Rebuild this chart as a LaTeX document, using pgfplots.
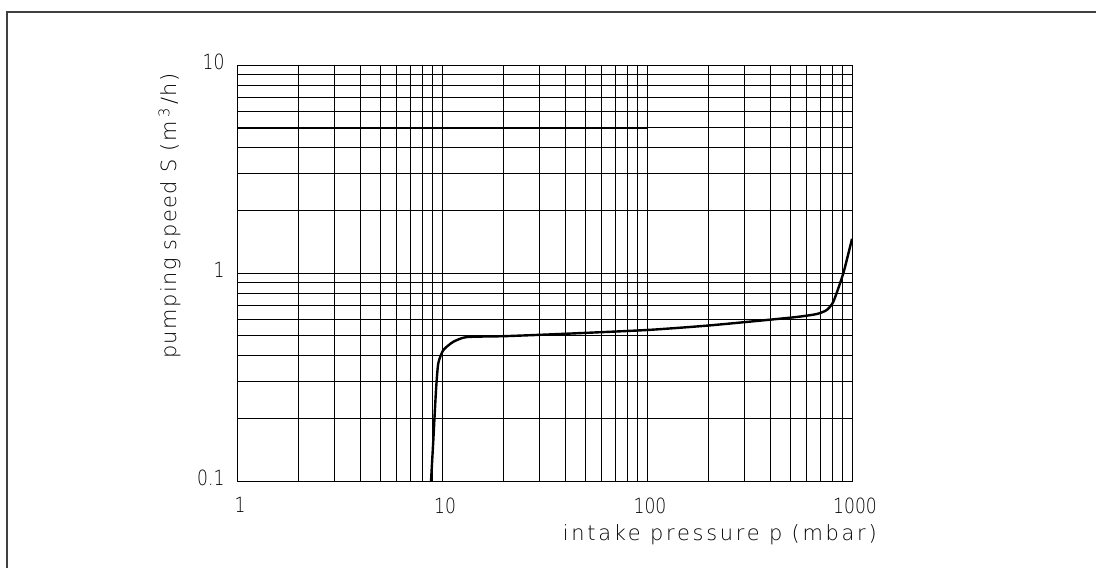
\documentclass[border=0pt]{standalone}
\usepackage{fontspec}
\setmainfont{DejaVu Sans ExtraLight}
\newfontfamily\labfont[LetterSpace=13]{DejaVu Sans ExtraLight}
\newfontfamily\ylabfont[LetterSpace=7]{DejaVu Sans ExtraLight}
\newfontfamily\tickfont[FakeStretch=0.82]{DejaVu Sans ExtraLight}
\usepackage{pgfplots}
\pgfplotsset{compat=1.18}
\begin{document}
\begin{tikzpicture}[x=1bp,y=1bp]
\path[use as bounding box] (0,0) rectangle (1096,568);
\draw[line width=1.3bp, black!75] (7,0) -- (7,556) -- (1096,556);
\begin{axis}[
  at={(237bp,87bp)}, anchor=south west,
  scale only axis, width=615bp, height=416bp,
  xmode=log, ymode=log,
  xmin=1, xmax=1000, ymin=0.1, ymax=10,
  xtick={1,10,100,1000}, xticklabels={1,10,100,1000},
  ytick={0.1,1,10}, yticklabels={0.1,1,10},
  minor xtick={2,3,4,5,6,7,8,9,20,30,40,50,60,70,80,90,200,300,400,500,600,700,800,900},
  minor ytick={0.2,0.3,0.4,0.5,0.6,0.7,0.8,0.9,2,3,4,5,6,7,8,9},
  grid=both,
  major grid style={black, line width=0.8bp},
  minor grid style={black, line width=0.8bp},
  axis line style={black, line width=0.8bp},
  tick style={draw=none},
  /pgf/number format/assume math mode=true,
  tick label style={font=\tickfont\fontsize{21}{24}\selectfont},
  xticklabel style={yshift=-13bp, xshift=3bp},
  yticklabel style={yshift=3.5bp, xshift=-9bp},
  xlabel={intake pressure p (mbar)},
  ylabel={pumping speed S (m\,\textsuperscript{3}\,/h)},
  xlabel style={font=\labfont\fontsize{21}{24}\selectfont, at={(axis description cs:0.785,-0.144)}, anchor=base},
  ylabel style={font=\ylabfont\fontsize{21}{24}\selectfont, at={(axis description cs:-0.0976,0.637)}, anchor=base},
]
\addplot[black, line width=1.8bp] coordinates {(1,5) (100,5)};
\addplot[black, line width=2.4bp, smooth, tension=0.35] coordinates {
 (8.84,0.1) (9.07,0.157) (9.35,0.274) (9.59,0.368) (10.15,0.426) (11.36,0.467)
 (13.2,0.492) (20.3,0.497) (37.6,0.509) (100,0.532) (203,0.56) (517,0.612)
 (673,0.635) (753,0.664) (811,0.728) (907,0.997) (1000,1.46)};
\end{axis}
\end{tikzpicture}
\end{document}
